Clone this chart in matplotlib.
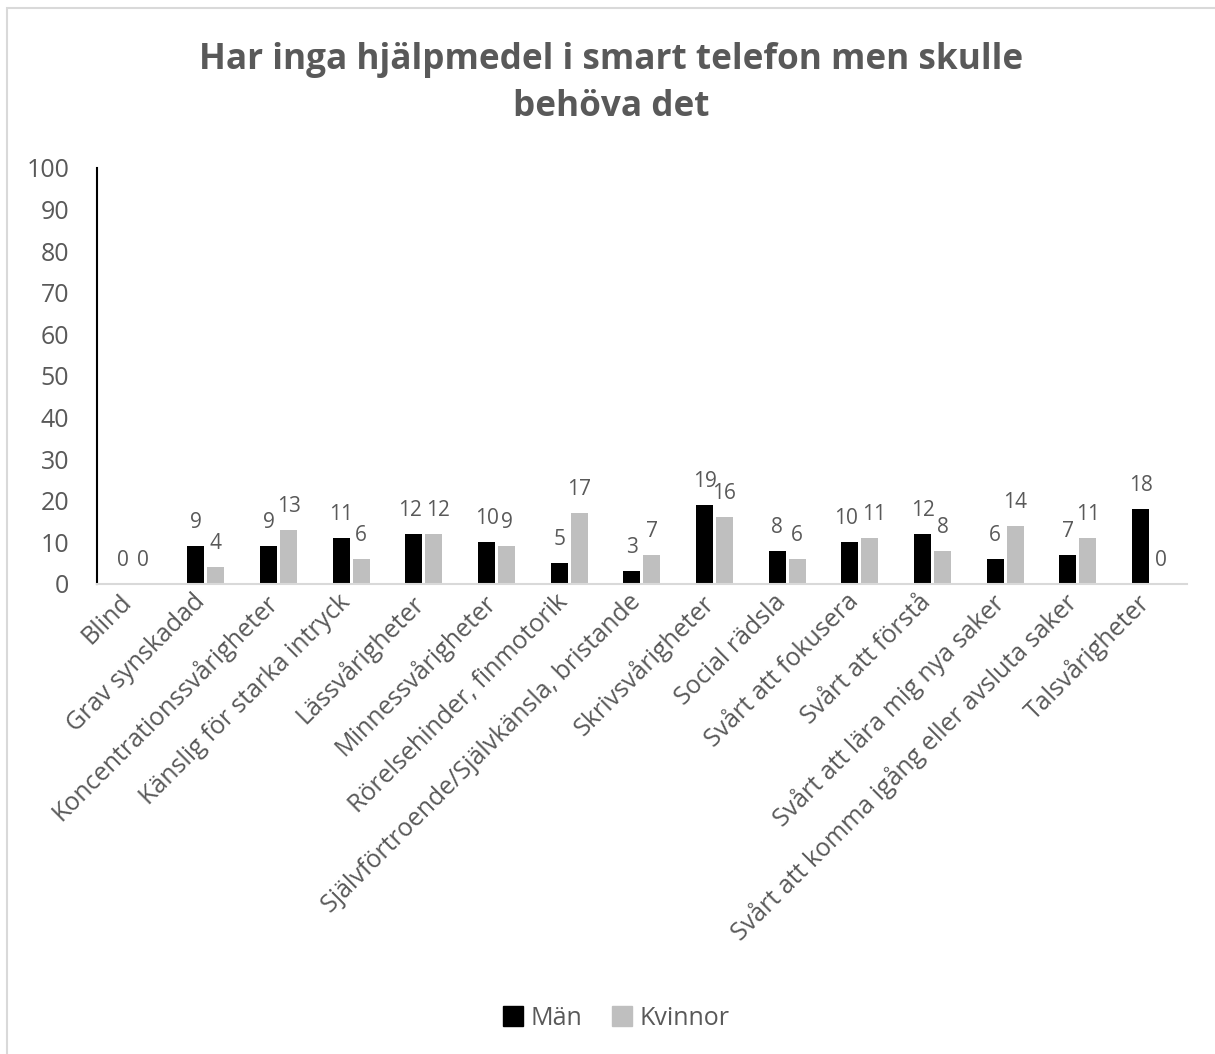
import matplotlib.pyplot as plt
import matplotlib.patches as mpatches
import matplotlib.transforms as mtransforms
import numpy as np

plt.rcParams['font.family'] = ['Open Sans', 'DejaVu Sans']

categories = [
    "Blind", "Grav synskadad", "Koncentrationssvårigheter",
    "Känslig för starka intryck", "Lässvårigheter", "Minnessvårigheter",
    "Rörelsehinder, finmotorik", "Självförtroende/Självkänsla, bristande",
    "Skrivsvårigheter", "Social rädsla", "Svårt att fokusera",
    "Svårt att förstå", "Svårt att lära mig nya saker",
    "Svårt att komma igång eller avsluta saker", "Talsvårigheter",
]
man = [0, 9, 9, 11, 12, 10, 5, 3, 19, 8, 10, 12, 6, 7, 18]
kvinnor = [0, 4, 13, 6, 12, 9, 17, 7, 16, 6, 11, 8, 14, 11, 0]

text_col = "#595959"

fig = plt.figure(figsize=(12.15, 10.54), dpi=100)
ax = fig.add_axes([0.0798, 0.446, 0.897, 0.3947])

x = np.arange(len(categories))
w = 0.234
off = 0.137
b1 = ax.bar(x - off, man, w, color="black", label="Män")
b2 = ax.bar(x + off, kvinnor, w, color="#BFBFBF", label="Kvinnor")

# value labels above bars; two-digit neighbours at similar height get nudged apart
for i in range(len(categories)):
    both_wide = man[i] >= 10 and kvinnor[i] >= 10 and abs(man[i] - kvinnor[i]) < 3
    nudge = 3 if both_wide else 0
    for bar, v, sign in ((b1[i], man[i], -1), (b2[i], kvinnor[i], 1)):
        ax.annotate(str(v), (bar.get_x() + bar.get_width() / 2, v),
                    xytext=(sign * nudge, 17), textcoords="offset points",
                    ha="center", va="center", fontsize=15, color=text_col)

ax.set_xlim(-0.5, len(categories) - 0.5)
ax.set_ylim(0, 100)
ax.set_yticks(range(0, 101, 10))
ax.tick_params(axis="y", length=0, pad=20, labelsize=18, labelcolor=text_col)
ax.tick_params(axis="x", length=0, pad=4)
ax.set_xticks(x)
ax.set_xticklabels(categories, rotation=45, ha="right", rotation_mode="anchor",
                   fontsize=18, color=text_col)

# shift rotated category labels a little to the left
shift = mtransforms.ScaledTranslation(-10 / 72, 0, fig.dpi_scale_trans)
for lbl in ax.get_xticklabels():
    lbl.set_transform(lbl.get_transform() + shift)

for s in ("top", "right"):
    ax.spines[s].set_visible(False)
ax.spines["left"].set_color("black")
ax.spines["left"].set_linewidth(1.5)
ax.spines["bottom"].set_color("#D9D9D9")
ax.spines["bottom"].set_linewidth(1.5)

fig.text(0.503, 0.921, "Har inga hjälpmedel i smart telefon men skulle\nbehöva det",
         ha="center", va="center", fontsize=25.3, fontweight="bold",
         color=text_col, linespacing=1.4)

handles = [mpatches.Patch(color="black", label="Män"),
           mpatches.Patch(color="#BFBFBF", label="Kvinnor")]
fig.legend(handles=handles, loc="center", bbox_to_anchor=(0.507, 0.034), ncol=2,
           frameon=False, fontsize=18, labelcolor=text_col,
           handlelength=0.8, handleheight=0.8, handletextpad=0.3, columnspacing=1.2)

# chart area border
fig.add_artist(mpatches.Rectangle((7 / 1215, -0.1), 1.2, 1 - 8 / 1054 + 0.1,
                                  transform=fig.transFigure, fill=False,
                                  edgecolor="#D9D9D9", linewidth=1.5))

fig.savefig("out.png", dpi=100)
